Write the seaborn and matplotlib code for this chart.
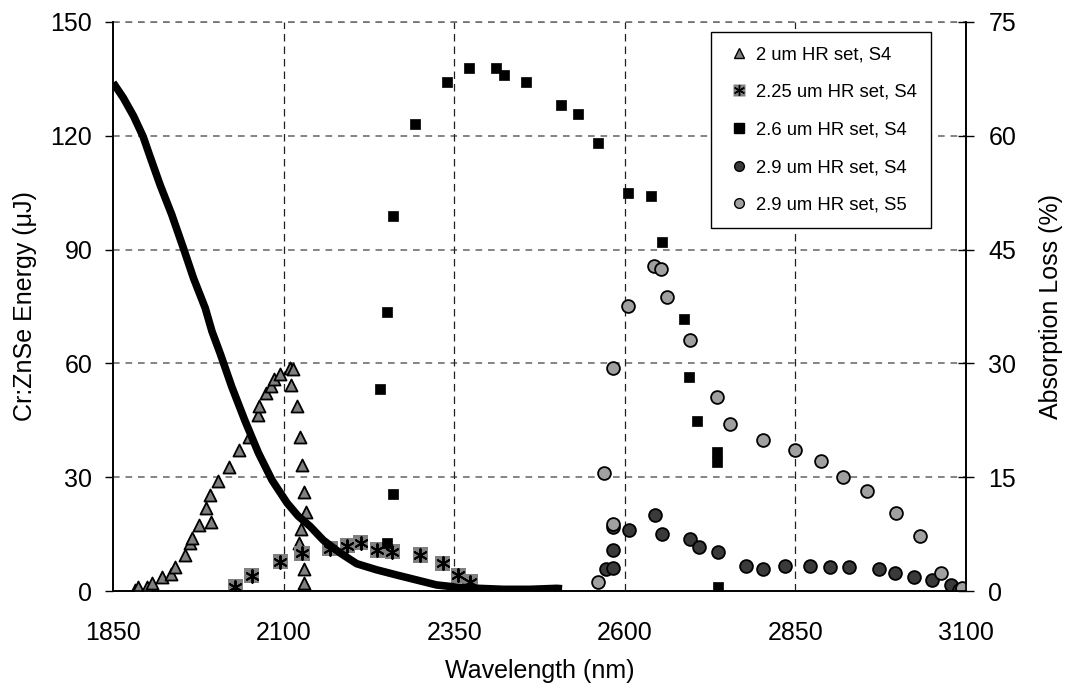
import numpy as np
import pandas as pd
import matplotlib
matplotlib.use("Agg")
import matplotlib.pyplot as plt
import seaborn as sns
from matplotlib.lines import Line2D

sns.set_style("white")
plt.rcParams["font.family"] = ["Liberation Sans", "DejaVu Sans"]
plt.rcParams["text.color"] = "black"
plt.rcParams["axes.labelcolor"] = "black"
plt.rcParams["xtick.color"] = "black"
plt.rcParams["ytick.color"] = "black"

# Laser output energy (uJ) versus wavelength (nm) for each mirror set
hr2_wl = [1882, 1886, 1899, 1907, 1921, 1935, 1941, 1955, 1963, 1966, 1976, 1994,
          1986, 1992, 2004, 2020, 2035, 2049, 2063, 2064, 2074, 2081, 2086, 2094,
          2109, 2114, 2111, 2120, 2124, 2127, 2130, 2133, 2126, 2123, 2130, 2130]
hr2_e = [0.3, 1.0, 1.0, 2.2, 3.6, 4.5, 6.4, 9.5, 12.6, 14.1, 17.4, 18.3,
         22.0, 25.3, 29.0, 32.6, 37.2, 40.5, 46.4, 48.8, 52.3, 54.0, 55.9, 57.2,
         58.7, 58.5, 54.3, 48.8, 40.7, 33.2, 26.2, 20.7, 16.3, 12.7, 5.7, 2.2]

hr225_wl = [2029, 2053, 2095, 2127, 2168, 2193, 2213, 2237, 2259, 2300, 2333, 2356, 2373]
hr225_e = [1.1, 4.0, 7.7, 9.9, 11.2, 11.9, 12.7, 10.8, 10.4, 9.5, 7.3, 4.1, 2.5]

hr26_wl = [2252, 2241, 2260, 2252, 2260, 2293, 2339, 2372, 2411, 2423, 2455, 2506,
           2532, 2560, 2604, 2639, 2655, 2686, 2694, 2706, 2735, 2735, 2737]
hr26_e = [73.6, 53.2, 25.6, 12.6, 98.9, 123.0, 134.2, 137.8, 137.8, 136.0, 134.2, 128.1,
          125.8, 118.1, 105.0, 104.1, 92.1, 71.7, 56.5, 44.9, 36.7, 34.1, 1.1]

hr29s4_wl = [2583, 2583, 2573, 2583, 2606, 2644, 2655, 2696, 2709, 2737, 2778, 2803,
             2834, 2872, 2901, 2929, 2973, 2996, 3024, 3050, 3078, 3089]
hr29s4_e = [16.8, 10.8, 5.7, 6.1, 16.0, 20.0, 14.9, 13.6, 11.7, 10.4, 6.6, 5.7,
            6.6, 6.6, 6.2, 6.2, 5.7, 4.8, 3.8, 2.9, 1.6, 0.3]

hr29s5_wl = [2560, 2570, 2583, 2583, 2604, 2642, 2653, 2662, 2696, 2735, 2754, 2803,
             2850, 2888, 2919, 2955, 2998, 3032, 3063, 3094]
hr29s5_e = [2.5, 31.2, 17.7, 58.9, 75.1, 85.7, 84.8, 77.4, 66.2, 51.1, 44.0, 39.8,
            37.2, 34.4, 30.1, 26.4, 20.5, 14.5, 4.8, 0.7]

# Absorption loss (%) of the crystal
abs_wl = [1850, 1865, 1880, 1894, 1904, 1919, 1936, 1953, 1968, 1985, 1995, 2007,
          2024, 2043, 2063, 2083, 2105, 2121, 2139, 2158, 2183, 2207, 2236, 2266,
          2295, 2324, 2354, 2383, 2422, 2461, 2500, 2508]
abs_loss = [67.0, 65.0, 62.6, 59.9, 57.3, 53.5, 49.6, 45.2, 41.2, 37.3, 34.2, 31.3,
            26.9, 22.5, 18.2, 14.6, 11.6, 9.9, 8.5, 6.7, 5.0, 3.6, 2.8, 2.1,
            1.45, 0.8, 0.5, 0.36, 0.22, 0.22, 0.35, 0.3]

labels = ["2 um HR set, S4", "2.25 um HR set, S4", "2.6 um HR set, S4",
          "2.9 um HR set, S4", "2.9 um HR set, S5"]
xticks = [1850, 2100, 2350, 2600, 2850, 3100]
yticks_left = [0, 30, 60, 90, 120, 150]
yticks_right = [0, 15, 30, 45, 60, 75]

fig = plt.figure(figsize=(10.77, 6.91), dpi=100)
ax = fig.add_axes([0.105, 0.1447, 0.792, 0.8235])

ax.set_xlim(1850, 3100)
ax.set_ylim(0, 150)

# grid
for y in yticks_left[1:]:
    ax.axhline(y, color="#707070", lw=1.2, ls=(0, (4, 3.5)), zorder=0)
for x in xticks[1:-1]:
    ax.axvline(x, color="#202020", lw=0.9, ls=(0, (6, 4)), zorder=0)

ms_edge = 1.3
sns.scatterplot(x=hr2_wl, y=hr2_e, ax=ax, marker="^", s=75, color="#808080",
                edgecolor="black", linewidth=ms_edge, zorder=3)
sns.scatterplot(x=hr225_wl, y=hr225_e, ax=ax, marker="s", s=120, color="#808080",
                edgecolor="none", linewidth=0, zorder=3)
sns.scatterplot(x=hr225_wl, y=hr225_e, ax=ax, marker=(6, 2, 0), s=85, color="black",
                edgecolor="black", linewidth=1.4, zorder=4)
sns.scatterplot(x=hr26_wl, y=hr26_e, ax=ax, marker="s", s=52, color="black",
                edgecolor="black", linewidth=0.5, zorder=3)
sns.scatterplot(x=hr29s4_wl, y=hr29s4_e, ax=ax, marker="o", s=85, color="#3a3a3a",
                edgecolor="black", linewidth=ms_edge, zorder=3)
sns.scatterplot(x=hr29s5_wl, y=hr29s5_e, ax=ax, marker="o", s=85, color="#a0a0a0",
                edgecolor="black", linewidth=ms_edge, zorder=3)

ax2 = ax.twinx()
ax2.set_ylim(0, 75)
sns.lineplot(x=abs_wl, y=abs_loss, ax=ax2, color="black", lw=5.5, zorder=2,
             solid_capstyle="butt", solid_joinstyle="round")

ax.set_xticks(xticks)
ax.set_yticks(yticks_left)
ax2.set_yticks(yticks_right)
ax.tick_params(axis="x", direction="out", length=6.5, width=1, labelsize=18, pad=15)
ax.tick_params(axis="y", direction="out", length=6, width=1, labelsize=18, pad=9)
ax2.tick_params(axis="y", direction="inout", length=12, width=1, labelsize=18, pad=10)

for a in (ax, ax2):
    for side in ("left", "right", "bottom"):
        a.spines[side].set_color("black")
        a.spines[side].set_linewidth(1.2)
    a.spines["top"].set_visible(False)
ax.axhline(150, color="#707070", lw=1.2, ls=(0, (4, 3.5)), zorder=0, clip_on=False)

ax.set_xlabel("Wavelength (nm)", fontsize=18, labelpad=10)
ax.set_ylabel("Cr:ZnSe Energy (\u03bcJ)", fontsize=18, labelpad=10)
ax2.set_ylabel("Absorption Loss (%)", fontsize=18, labelpad=16)

# legend
h_tri = Line2D([], [], ls="none", marker="^", ms=7, mfc="#808080", mec="black", mew=1)
h_sq = Line2D([], [], ls="none", marker="s", ms=9, mfc="#808080", mec="none")
h_ast = Line2D([], [], ls="none", marker=(6, 2, 0), ms=8, mfc="black", mec="black", mew=1)
h_blk = Line2D([], [], ls="none", marker="s", ms=7, mfc="black", mec="black")
h_c4 = Line2D([], [], ls="none", marker="o", ms=7, mfc="#3a3a3a", mec="black", mew=1)
h_c5 = Line2D([], [], ls="none", marker="o", ms=7, mfc="#a0a0a0", mec="black", mew=1)
leg = ax2.legend([h_tri, (h_sq, h_ast), h_blk, h_c4, h_c5], labels,
                 loc="upper left", bbox_to_anchor=(0.7005, 0.982),
                 fontsize=13.3, frameon=True, fancybox=False, shadow=False,
                 labelspacing=1.12, handlelength=1.6, handletextpad=0.1,
                 borderpad=0.75, borderaxespad=0, framealpha=1)
leg.get_frame().set_edgecolor("black")
leg.get_frame().set_linewidth(1.0)

fig.savefig("out.png", dpi=100)
